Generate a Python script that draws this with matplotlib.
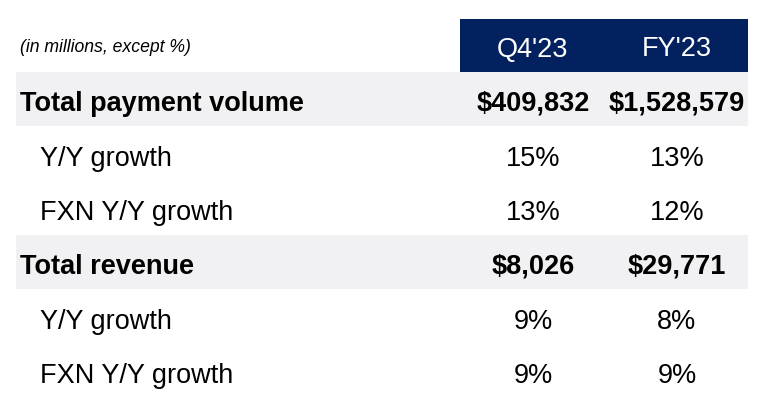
import matplotlib.pyplot as plt
from matplotlib.patches import Rectangle

# table content
columns = ["Q4'23", "FY'23"]
row_labels = ["Total payment volume", "Y/Y growth", "FXN Y/Y growth",
              "Total revenue", "Y/Y growth", "FXN Y/Y growth"]
q4_values = ["$409,832", "15%", "13%", "$8,026", "9%", "9%"]
fy_values = ["$1,528,579", "13%", "12%", "$29,771", "8%", "9%"]
is_total = [True, False, False, True, False, False]
note = "(in millions, except %)"

# layout (pixels)
W, H = 766, 406
navy = "#04215f"
band = "#f1f1f3"
header_top, header_bot = 20, 73
row_h = 54.3
col_x = [533, 677]
left, right, hdr_left = 16, 748, 460

plt.rcParams['font.family'] = ['Liberation Sans', 'DejaVu Sans']

fig = plt.figure(figsize=(W / 100, H / 100), dpi=100)
ax = fig.add_axes([0, 0, 1, 1])
ax.set_xlim(0, W)
ax.set_ylim(H, 0)
ax.axis("off")

# header
ax.add_patch(Rectangle((hdr_left, header_top), right - hdr_left, header_bot - header_top,
                       color=navy, lw=0))
hdr_mid = (header_top + header_bot) / 2
for x, c in zip(col_x, columns):
    ax.text(x, hdr_mid + 10, c, color="white", fontsize=19.5, ha="center", va="baseline")
ax.text(20, hdr_mid + 6, note, fontsize=12.7, style="italic", ha="left", va="baseline")

for i, lab in enumerate(row_labels):
    top = header_bot + i * row_h
    mid = top + row_h / 2
    if is_total[i]:
        ax.add_patch(Rectangle((left, top), right - left, row_h, color=band, lw=0))
        weight, lx, base = "bold", 20, mid + 10.5
    else:
        weight, lx, base = "normal", 40, mid + 11.5
    ax.text(lx, base, lab, fontsize=19.5, fontweight=weight, ha="left", va="baseline")
    ax.text(col_x[0], base, q4_values[i], fontsize=19.5, fontweight=weight,
            ha="center", va="baseline")
    ax.text(col_x[1], base, fy_values[i], fontsize=19.5, fontweight=weight,
            ha="center", va="baseline")

fig.savefig("out.png", dpi=100)
